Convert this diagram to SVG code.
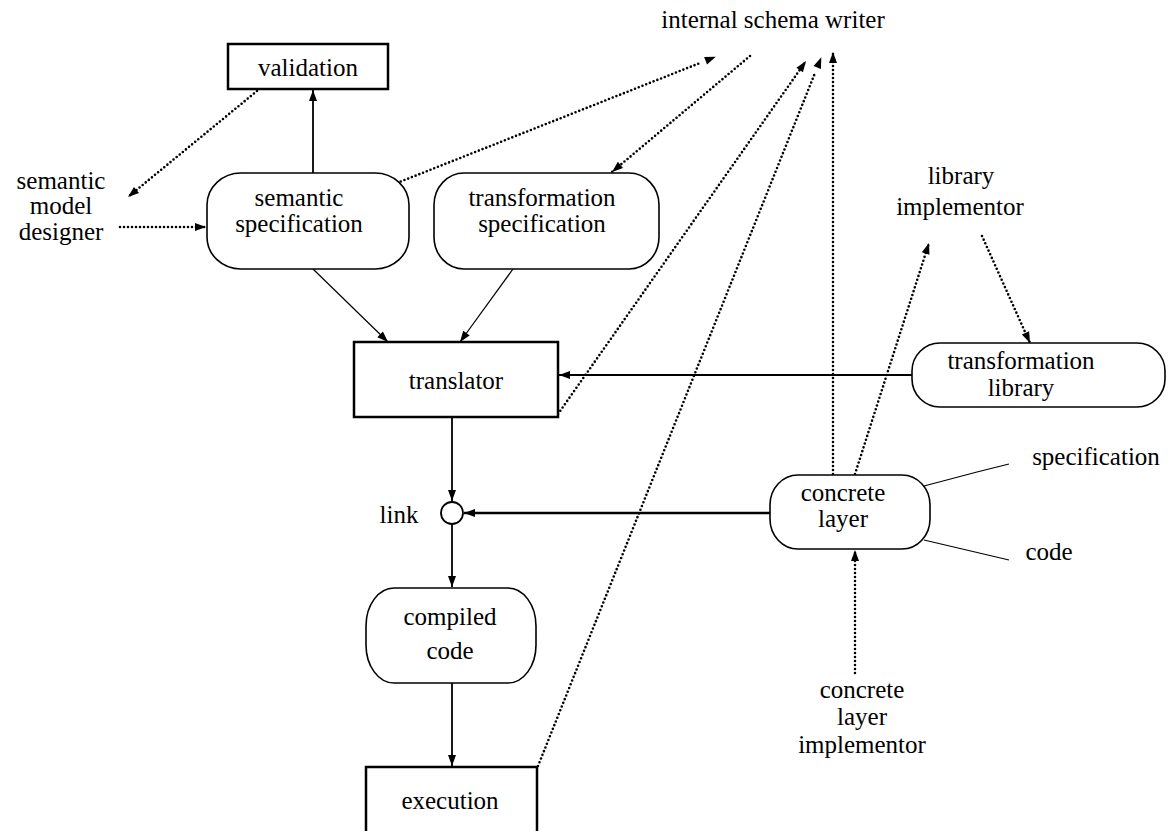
<svg xmlns="http://www.w3.org/2000/svg" width="1170" height="831" viewBox="0 0 1170 831">
<style>
text{font-family:'Liberation Serif','DejaVu Serif','Noto Serif',serif;font-size:25px;fill:#000;text-anchor:middle}
.box{fill:#fff;stroke:#000;stroke-width:2.5}
.pill{fill:#fff;stroke:#000;stroke-width:1.6}
.s{fill:none;stroke:#000;stroke-width:1.8}
.t{fill:none;stroke:#000;stroke-width:1.2}
.k{fill:none;stroke:#000;stroke-width:2.6}
.d{fill:none;stroke:#000;stroke-width:2.6;stroke-dasharray:0 4;stroke-linecap:round}
</style>
<defs>
<marker id="a" markerUnits="userSpaceOnUse" markerWidth="12" markerHeight="10" viewBox="0 0 12 10" refX="11" refY="5" orient="auto" overflow="visible"><path d="M0,1 L11,5 L0,9 z" fill="#000"/></marker>
<marker id="g" markerUnits="userSpaceOnUse" markerWidth="12" markerHeight="10" viewBox="0 0 12 10" refX="-6" refY="5" orient="auto" overflow="visible"><path d="M0,1 L11,5 L0,9 z" fill="#000"/></marker>
</defs>
<g id="connectors">
<path class="s" d="M313,173 L313,90" marker-end="url(#a)"/>
<path class="d" d="M120,227 L206,227" marker-end="url(#a)"/>
<path class="d" d="M257,91 L128,197" marker-end="url(#a)"/>
<path class="d" d="M397,183 L700,63" marker-end="url(#g)"/>
<path class="d" d="M750,56 L612,172" marker-end="url(#a)"/>
<path class="d" d="M558,414 L806,61" marker-end="url(#a)"/>
<path class="d" d="M538,766 L815,73" marker-end="url(#g)"/>
<path class="d" d="M833,474 L833,52" marker-end="url(#a)"/>
<path class="s" d="M912,375 L559,375" marker-end="url(#a)"/>
<path class="d" d="M855,474 L929,243" marker-end="url(#a)"/>
<path class="d" d="M982,236 L1030,343" marker-end="url(#a)"/>
<path class="t" d="M313,269 L388,342" marker-end="url(#a)"/>
<path class="t" d="M513,269 L460,342" marker-end="url(#a)"/>
<path class="s" d="M452,417 L452,501" marker-end="url(#a)"/>
<path class="k" d="M770,513 L464,513" marker-end="url(#a)"/>
<path class="s" d="M452,525 L452,587" marker-end="url(#a)"/>
<path class="s" d="M452,683 L452,766" marker-end="url(#a)"/>
<path class="d" d="M855,673 L855,550" marker-end="url(#a)"/>
<path class="t" d="M924,486 L977,472 L1009,464"/>
<path class="t" d="M924,540 L1009,560"/>
</g>
<g id="validation"><rect class="box" x="228" y="44" width="160" height="45"/><text x="308" y="76">validation</text></g>
<g id="semantic-spec"><rect class="pill" x="207" y="173" width="202" height="96" rx="34" ry="32"/><text x="299" y="206">semantic</text><text x="299" y="232">specification</text></g>
<g id="transformation-spec"><rect class="pill" x="434" y="173" width="225" height="96" rx="30" ry="32"/><text x="542" y="206">transformation</text><text x="542" y="232">specification</text></g>
<g id="semantic-model-designer"><text x="61" y="189">semantic</text><text x="61" y="214">model</text><text x="61" y="240">designer</text></g>
<g id="internal-schema-writer"><text x="773" y="28">internal schema writer</text></g>
<g id="translator"><rect class="box" x="354" y="342" width="204" height="75"/><text x="456" y="389">translator</text></g>
<g id="library-implementor"><text x="961" y="184">library</text><text x="960" y="215">implementor</text></g>
<g id="transformation-library"><rect class="pill" x="912" y="343" width="253" height="64" rx="28" ry="28"/><text x="1021" y="369">transformation</text><text x="1021" y="396">library</text></g>
<g id="link"><circle class="s" cx="452" cy="513" r="11" fill="#fff"/><text x="399" y="523">link</text></g>
<g id="concrete-layer"><rect class="pill" x="770" y="475" width="160" height="74" rx="28" ry="30"/><text x="843" y="501">concrete</text><text x="843" y="527">layer</text></g>
<g id="specification"><text x="1096" y="465">specification</text></g>
<g id="code"><text x="1049" y="560">code</text></g>
<g id="compiled-code"><rect class="pill" x="366" y="588" width="170" height="95" rx="28" ry="38"/><text x="450" y="625">compiled</text><text x="450" y="659">code</text></g>
<g id="execution"><rect class="box" x="366" y="767" width="171" height="80"/><text x="450" y="809">execution</text></g>
<g id="concrete-layer-implementor"><text x="862" y="698">concrete</text><text x="862" y="725">layer</text><text x="862" y="753">implementor</text></g>
</svg>
